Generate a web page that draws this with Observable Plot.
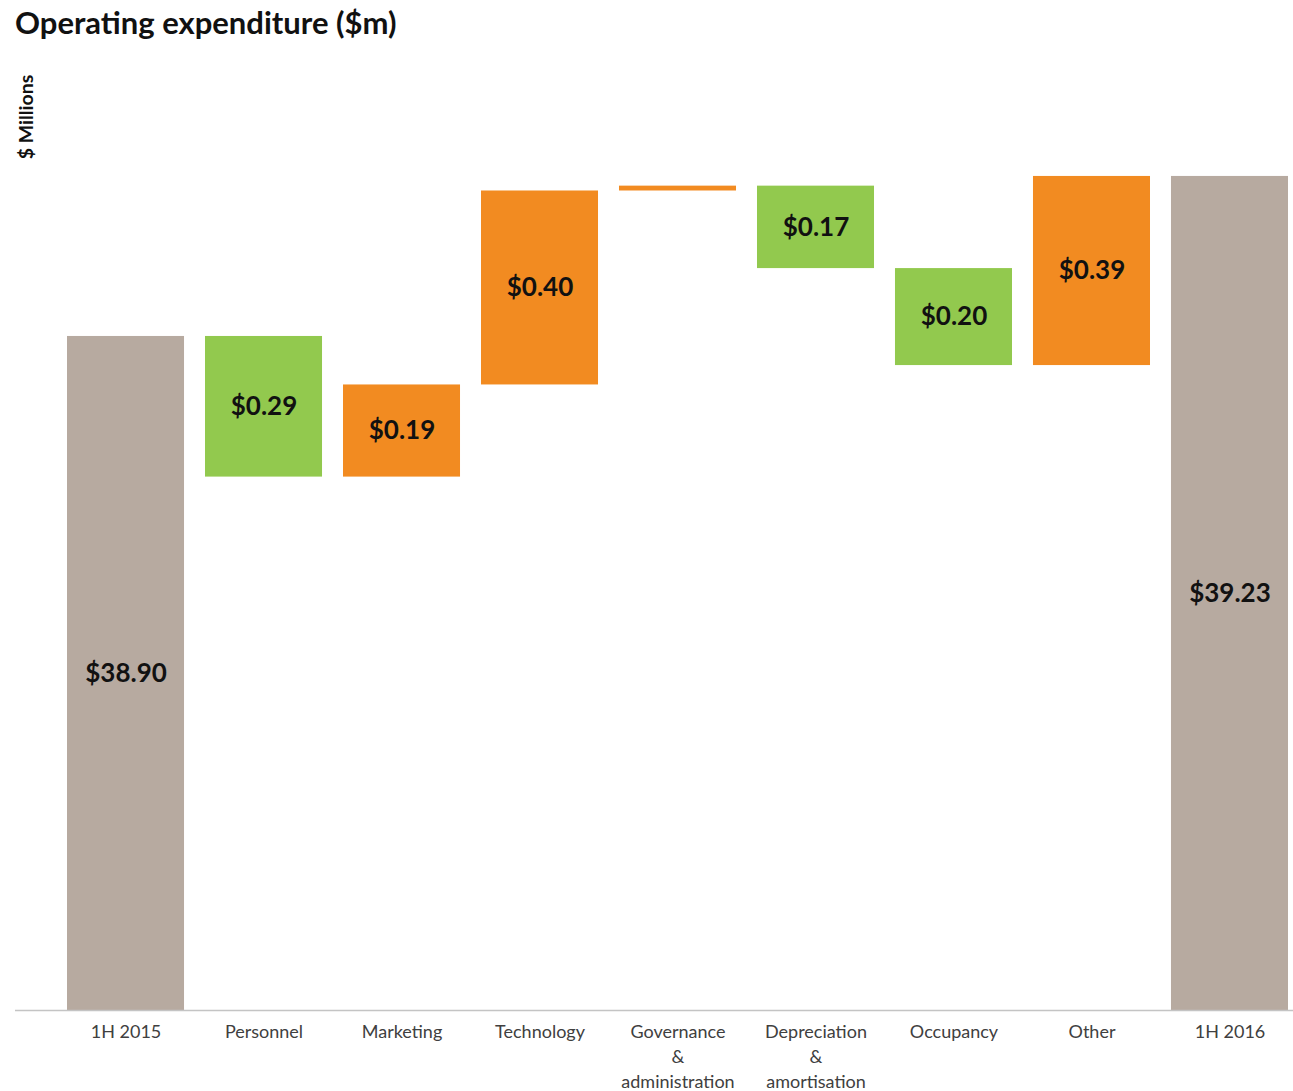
<!DOCTYPE html>
<html>
<head>
<meta charset="utf-8">
<script src="https://cdn.jsdelivr.net/npm/d3@7"></script>
<script src="https://cdn.jsdelivr.net/npm/@observablehq/plot@0.6"></script>
<style>
  html, body { margin: 0; padding: 0; background: #fff; }
  body { width: 1293px; height: 1091px; position: relative; overflow: hidden; font-family: Lato, "Open Sans", sans-serif; }
  #title { position: absolute; left: 15px; top: 0; height: 50px; line-height: 44px; font-size: 31px; font-weight: 700; color: #111; z-index: 2; }
  #ylab { position: absolute; left: 25px; top: 117px; transform: translate(-50%, -50%) rotate(-90deg); font-size: 19.5px; font-weight: 700; color: #111; white-space: nowrap; z-index: 2; }
  #chart { position: absolute; left: 0; top: 50px; z-index: 1; }
</style>
</head>
<body>
<div id="title">Operating expenditure ($m)</div>
<div id="ylab">$ Millions</div>
<div id="chart"></div>
<script>
// ---- data ----
const categories = ["1H 2015", "Personnel", "Marketing", "Technology", "Governance\n&\nadministration", "Depreciation\n&\namortisation", "Occupancy", "Other", "1H 2016"];
const startTotal = 38.90;
const endTotal = 39.23;
const changes = [-0.29, 0.19, 0.40, 0.01, -0.17, -0.20, 0.39];
const yMin = 37.51;
const yMax = 39.30;

// ---- build waterfall rows ----
const rows = [];
rows.push({cat: categories[0], y1: yMin, y2: startTotal, kind: "total", value: startTotal});
let level = startTotal;
changes.forEach((c, i) => {
  rows.push({cat: categories[i + 1], y1: level, y2: level + c, kind: c >= 0 ? "up" : "down", value: Math.abs(c)});
  level += c;
});
rows.push({cat: categories[categories.length - 1], y1: yMin, y2: endTotal, kind: "total", value: endTotal});
rows.forEach(r => { r.mid = (r.y1 + r.y2) / 2; });

const colors = {total: "#b7aaa0", up: "#f28b21", down: "#92c94e"};
const fmt = d3.format("$.2f");

const plot = Plot.plot({
  width: 1293,
  height: 1041,
  marginLeft: 67,
  marginRight: 5,
  marginTop: 92,
  marginBottom: 81,
  style: {fontFamily: "Lato, 'Open Sans', sans-serif", background: "transparent"},
  x: {domain: categories, paddingInner: 0.152, paddingOuter: 0, round: false, label: null},
  y: {domain: [yMin, yMax], axis: null},
  marks: [
    Plot.barY(rows, {x: "cat", y1: "y1", y2: "y2", fill: d => colors[d.kind]}),
    Plot.ruleY([yMin], {stroke: "#c4c4c4", strokeWidth: 1.5, insetLeft: -52, insetRight: -5}),
    Plot.text(rows.filter(d => d.value >= 0.05), {
      x: "cat", y: "mid", text: d => fmt(d.value),
      fontSize: 26, fontWeight: 700, fill: "#111"
    }),
    Plot.axisX({
      tickSize: 0, tickPadding: 10, fontSize: 18, lineHeight: 1.38,
      fill: "#404040", label: null, textAnchor: "middle"
    })
  ]
});
document.getElementById("chart").appendChild(plot);
</script>
</body>
</html>
